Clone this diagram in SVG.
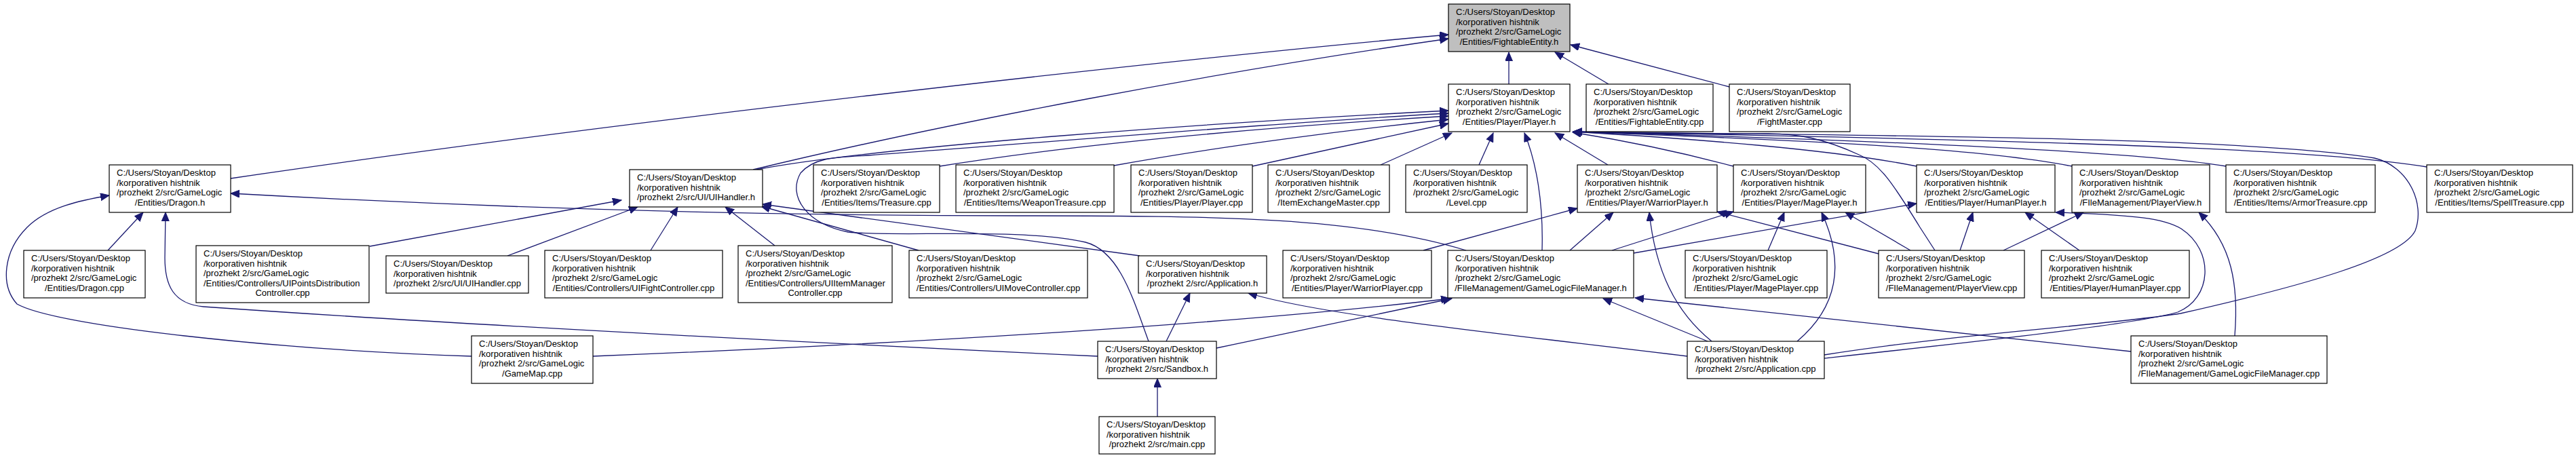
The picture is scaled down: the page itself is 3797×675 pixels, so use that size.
<svg xmlns="http://www.w3.org/2000/svg" width="3797" height="675" viewBox="0 0 3797 675">
<defs>
<style>
.n rect{fill:#fff;stroke:#000;stroke-width:1.2}
.n.root rect{fill:#bfbfbf}
.n text{font-family:"Liberation Sans",Arial,sans-serif;font-size:13px;fill:#000}
.n text.c{text-anchor:middle}
.e path{fill:none;stroke:#191970;stroke-width:1.3;marker-end:url(#ah)}
</style>
<marker id="ah" markerUnits="userSpaceOnUse" markerWidth="15" markerHeight="13" refX="13" refY="5.5" orient="auto">
<path d="M0,0 L13,5.5 L0,11 z" fill="#191970" stroke="#191970" stroke-width="1"/>
</marker>
</defs>
<rect width="3797" height="675" fill="#fff"/>
<g id="connectors" class="e">
<path d="M2224,124 L2224,77"/>
<path d="M2371,124 L2292,77"/>
<path d="M2549,128 L2315,66"/>
<path d="M340,263 C900,180 1700,90 2135,51"/>
<path d="M1110,250 C1400,180 1800,105 2135,57"/>
<path d="M1115,250 C1300,215 1800,180 2135,163"/>
<path d="M1693,503 C1670,440 1650,370 1600,357 C1500,335 1320,350 1250,342 C1190,330 1160,290 1180,255 C1200,232 1230,232 1280,229 C1600,205 1900,180 2135,167"/>
<path d="M1385,245 C1600,210 1900,185 2135,171"/>
<path d="M1642,244 C1800,215 2000,190 2135,176"/>
<path d="M1846,245 L2135,182"/>
<path d="M2035,243 L2140,196"/>
<path d="M2180,243 L2201,196"/>
<path d="M2273,369 C2275,300 2265,240 2247,196"/>
<path d="M2370,243 L2292,196"/>
<path d="M2555,245 C2480,225 2400,208 2318,195"/>
<path d="M2825,245 C2700,220 2500,205 2319,194"/>
<path d="M3054,245 C2900,215 2600,205 2319,194"/>
<path d="M3281,245 C3150,222 2700,205 2319,194"/>
<path d="M3577,246 C3450,225 3200,210 2319,194"/>
<path d="M2852,369 L2830,335 C2790,270 2770,240 2740,228 C2690,205 2650,196 2600,197 C2450,198 2350,196 2319,194"/>
<path d="M2689,523 C2900,490 3100,480 3214,462 C3400,420 3540,380 3560,340 C3575,300 3550,245 3500,233 C3300,200 2700,200 2319,194"/>
<path d="M159,369 L211,313"/>
<path d="M1618,525 C1300,510 700,480 300,452 C255,448 243,420 243,380 L244,313"/>
<path d="M695,525 C400,515 80,480 25,448 C0,420 5,370 40,335 C70,305 120,295 161,288"/>
<path d="M2161,369 C2000,320 1800,318 1500,318 C1100,318 700,305 340,285"/>
<path d="M545,363 L916,295"/>
<path d="M748,377 L940,305"/>
<path d="M959,369 L999,305"/>
<path d="M1142,362 L1069,305"/>
<path d="M1354,369 L1122,304"/>
<path d="M1680,377 L1124,301"/>
<path d="M1719,503 L1754,432"/>
<path d="M2487,525 C2200,490 1950,465 1840,432"/>
<path d="M1706,614 L1706,558"/>
<path d="M874,525 C1300,508 1800,480 2137,440"/>
<path d="M1793,513 L2140,440"/>
<path d="M2517,503 L2363,440"/>
<path d="M3141,518 L2410,439"/>
<path d="M2098,369 L2325,307"/>
<path d="M2314,369 L2378,313"/>
<path d="M2523,503 C2470,460 2440,400 2431,313"/>
<path d="M2769,374 L2531,312"/>
<path d="M2376,369 L2555,312"/>
<path d="M2606,369 L2630,313"/>
<path d="M2649,503 C2700,460 2725,400 2685,313"/>
<path d="M2816,369 L2720,313"/>
<path d="M2408,373 L2825,300"/>
<path d="M2889,369 L2908,313"/>
<path d="M3065,369 L2985,313"/>
<path d="M2953,369 L3071,313"/>
<path d="M2689,528 C2900,505 3150,478 3210,460 C3260,440 3265,370 3215,337 C3190,322 3150,317 3030,313"/>
<path d="M3294,495 C3300,420 3290,360 3241,313"/>
</g>
<g id="fe_h" class="n root" transform="translate(2135,6)"><rect width="179" height="70"/><text x="11" y="16.25">C:/Users/Stoyan/Desktop</text><text x="11" y="30.75">/korporativen hishtnik</text><text x="11" y="45.25">/prozhekt 2/src/GameLogic</text><text class="c" x="89.5" y="59.75">/Entities/FightableEntity.h</text></g>
<g id="player_h" class="n" transform="translate(2135,124)"><rect width="179" height="70"/><text x="11" y="16.25">C:/Users/Stoyan/Desktop</text><text x="11" y="30.75">/korporativen hishtnik</text><text x="11" y="45.25">/prozhekt 2/src/GameLogic</text><text class="c" x="89.5" y="59.75">/Entities/Player/Player.h</text></g>
<g id="fe_cpp" class="n" transform="translate(2338,124)"><rect width="187" height="70"/><text x="11" y="16.25">C:/Users/Stoyan/Desktop</text><text x="11" y="30.75">/korporativen hishtnik</text><text x="11" y="45.25">/prozhekt 2/src/GameLogic</text><text class="c" x="93.5" y="59.75">/Entities/FightableEntity.cpp</text></g>
<g id="fightmaster_cpp" class="n" transform="translate(2549,124)"><rect width="178" height="70"/><text x="11" y="16.25">C:/Users/Stoyan/Desktop</text><text x="11" y="30.75">/korporativen hishtnik</text><text x="11" y="45.25">/prozhekt 2/src/GameLogic</text><text class="c" x="89" y="59.75">/FightMaster.cpp</text></g>
<g id="dragon_h" class="n" transform="translate(161,243)"><rect width="179" height="70"/><text x="11" y="16.25">C:/Users/Stoyan/Desktop</text><text x="11" y="30.75">/korporativen hishtnik</text><text x="11" y="45.25">/prozhekt 2/src/GameLogic</text><text class="c" x="89.5" y="59.75">/Entities/Dragon.h</text></g>
<g id="uihandler_h" class="n" transform="translate(928,250)"><rect width="196" height="55"/><text x="11" y="16">C:/Users/Stoyan/Desktop</text><text x="11" y="30.5">/korporativen hishtnik</text><text class="c" x="98" y="45">/prozhekt 2/src/UI/UIHandler.h</text></g>
<g id="treasure_cpp" class="n" transform="translate(1199,243)"><rect width="186" height="70"/><text x="11" y="16.25">C:/Users/Stoyan/Desktop</text><text x="11" y="30.75">/korporativen hishtnik</text><text x="11" y="45.25">/prozhekt 2/src/GameLogic</text><text class="c" x="93" y="59.75">/Entities/Items/Treasure.cpp</text></g>
<g id="weapontreasure_cpp" class="n" transform="translate(1409,243)"><rect width="233" height="70"/><text x="11" y="16.25">C:/Users/Stoyan/Desktop</text><text x="11" y="30.75">/korporativen hishtnik</text><text x="11" y="45.25">/prozhekt 2/src/GameLogic</text><text class="c" x="116.5" y="59.75">/Entities/Items/WeaponTreasure.cpp</text></g>
<g id="player_cpp" class="n" transform="translate(1667,243)"><rect width="179" height="70"/><text x="11" y="16.25">C:/Users/Stoyan/Desktop</text><text x="11" y="30.75">/korporativen hishtnik</text><text x="11" y="45.25">/prozhekt 2/src/GameLogic</text><text class="c" x="89.5" y="59.75">/Entities/Player/Player.cpp</text></g>
<g id="itemexchangemaster_cpp" class="n" transform="translate(1869,243)"><rect width="179" height="70"/><text x="11" y="16.25">C:/Users/Stoyan/Desktop</text><text x="11" y="30.75">/korporativen hishtnik</text><text x="11" y="45.25">/prozhekt 2/src/GameLogic</text><text class="c" x="89.5" y="59.75">/ItemExchangeMaster.cpp</text></g>
<g id="level_cpp" class="n" transform="translate(2072,243)"><rect width="179" height="70"/><text x="11" y="16.25">C:/Users/Stoyan/Desktop</text><text x="11" y="30.75">/korporativen hishtnik</text><text x="11" y="45.25">/prozhekt 2/src/GameLogic</text><text class="c" x="89.5" y="59.75">/Level.cpp</text></g>
<g id="warriorplayer_h" class="n" transform="translate(2325,243)"><rect width="206" height="70"/><text x="11" y="16.25">C:/Users/Stoyan/Desktop</text><text x="11" y="30.75">/korporativen hishtnik</text><text x="11" y="45.25">/prozhekt 2/src/GameLogic</text><text class="c" x="103" y="59.75">/Entities/Player/WarriorPlayer.h</text></g>
<g id="mageplayer_h" class="n" transform="translate(2555,243)"><rect width="195" height="70"/><text x="11" y="16.25">C:/Users/Stoyan/Desktop</text><text x="11" y="30.75">/korporativen hishtnik</text><text x="11" y="45.25">/prozhekt 2/src/GameLogic</text><text class="c" x="97.5" y="59.75">/Entities/Player/MagePlayer.h</text></g>
<g id="humanplayer_h" class="n" transform="translate(2825,243)"><rect width="204" height="70"/><text x="11" y="16.25">C:/Users/Stoyan/Desktop</text><text x="11" y="30.75">/korporativen hishtnik</text><text x="11" y="45.25">/prozhekt 2/src/GameLogic</text><text class="c" x="102" y="59.75">/Entities/Player/HumanPlayer.h</text></g>
<g id="playerview_h" class="n" transform="translate(3054,243)"><rect width="203" height="70"/><text x="11" y="16.25">C:/Users/Stoyan/Desktop</text><text x="11" y="30.75">/korporativen hishtnik</text><text x="11" y="45.25">/prozhekt 2/src/GameLogic</text><text class="c" x="101.5" y="59.75">/FIleManagement/PlayerView.h</text></g>
<g id="armortreasure_cpp" class="n" transform="translate(3281,243)"><rect width="220" height="70"/><text x="11" y="16.25">C:/Users/Stoyan/Desktop</text><text x="11" y="30.75">/korporativen hishtnik</text><text x="11" y="45.25">/prozhekt 2/src/GameLogic</text><text class="c" x="110" y="59.75">/Entities/Items/ArmorTreasure.cpp</text></g>
<g id="spelltreasure_cpp" class="n" transform="translate(3577,243)"><rect width="215" height="70"/><text x="11" y="16.25">C:/Users/Stoyan/Desktop</text><text x="11" y="30.75">/korporativen hishtnik</text><text x="11" y="45.25">/prozhekt 2/src/GameLogic</text><text class="c" x="107.5" y="59.75">/Entities/Items/SpellTreasure.cpp</text></g>
<g id="dragon_cpp" class="n" transform="translate(35,369)"><rect width="179" height="70"/><text x="11" y="16.25">C:/Users/Stoyan/Desktop</text><text x="11" y="30.75">/korporativen hishtnik</text><text x="11" y="45.25">/prozhekt 2/src/GameLogic</text><text class="c" x="89.5" y="59.75">/Entities/Dragon.cpp</text></g>
<g id="uipointsdistributioncontroller_cpp" class="n" transform="translate(289,362)"><rect width="255" height="84"/><text x="11" y="16">C:/Users/Stoyan/Desktop</text><text x="11" y="30.5">/korporativen hishtnik</text><text x="11" y="45">/prozhekt 2/src/GameLogic</text><text x="11" y="59.5">/Entities/Controllers/UIPointsDistribution</text><text class="c" x="127.5" y="74">Controller.cpp</text></g>
<g id="uihandler_cpp" class="n" transform="translate(569,377)"><rect width="210" height="55"/><text x="11" y="16">C:/Users/Stoyan/Desktop</text><text x="11" y="30.5">/korporativen hishtnik</text><text class="c" x="105" y="45">/prozhekt 2/src/UI/UIHandler.cpp</text></g>
<g id="uifightcontroller_cpp" class="n" transform="translate(803,369)"><rect width="262" height="70"/><text x="11" y="16.25">C:/Users/Stoyan/Desktop</text><text x="11" y="30.75">/korporativen hishtnik</text><text x="11" y="45.25">/prozhekt 2/src/GameLogic</text><text class="c" x="131" y="59.75">/Entities/Controllers/UIFightController.cpp</text></g>
<g id="uiitemmanagercontroller_cpp" class="n" transform="translate(1088,362)"><rect width="227" height="84"/><text x="11" y="16">C:/Users/Stoyan/Desktop</text><text x="11" y="30.5">/korporativen hishtnik</text><text x="11" y="45">/prozhekt 2/src/GameLogic</text><text x="11" y="59.5">/Entities/Controllers/UIItemManager</text><text class="c" x="113.5" y="74">Controller.cpp</text></g>
<g id="uimovecontroller_cpp" class="n" transform="translate(1340,369)"><rect width="263" height="70"/><text x="11" y="16.25">C:/Users/Stoyan/Desktop</text><text x="11" y="30.75">/korporativen hishtnik</text><text x="11" y="45.25">/prozhekt 2/src/GameLogic</text><text class="c" x="131.5" y="59.75">/Entities/Controllers/UIMoveController.cpp</text></g>
<g id="application_h" class="n" transform="translate(1678,377)"><rect width="189" height="55"/><text x="11" y="16">C:/Users/Stoyan/Desktop</text><text x="11" y="30.5">/korporativen hishtnik</text><text class="c" x="94.5" y="45">/prozhekt 2/src/Application.h</text></g>
<g id="warriorplayer_cpp" class="n" transform="translate(1891,369)"><rect width="219" height="70"/><text x="11" y="16.25">C:/Users/Stoyan/Desktop</text><text x="11" y="30.75">/korporativen hishtnik</text><text x="11" y="45.25">/prozhekt 2/src/GameLogic</text><text class="c" x="109.5" y="59.75">/Entities/Player/WarriorPlayer.cpp</text></g>
<g id="gamelogicfilemanager_h" class="n" transform="translate(2134,369)"><rect width="274" height="70"/><text x="11" y="16.25">C:/Users/Stoyan/Desktop</text><text x="11" y="30.75">/korporativen hishtnik</text><text x="11" y="45.25">/prozhekt 2/src/GameLogic</text><text class="c" x="137" y="59.75">/FIleManagement/GameLogicFileManager.h</text></g>
<g id="mageplayer_cpp" class="n" transform="translate(2484,369)"><rect width="209" height="70"/><text x="11" y="16.25">C:/Users/Stoyan/Desktop</text><text x="11" y="30.75">/korporativen hishtnik</text><text x="11" y="45.25">/prozhekt 2/src/GameLogic</text><text class="c" x="104.5" y="59.75">/Entities/Player/MagePlayer.cpp</text></g>
<g id="playerview_cpp" class="n" transform="translate(2769,369)"><rect width="215" height="70"/><text x="11" y="16.25">C:/Users/Stoyan/Desktop</text><text x="11" y="30.75">/korporativen hishtnik</text><text x="11" y="45.25">/prozhekt 2/src/GameLogic</text><text class="c" x="107.5" y="59.75">/FIleManagement/PlayerView.cpp</text></g>
<g id="humanplayer_cpp" class="n" transform="translate(3009,369)"><rect width="218" height="70"/><text x="11" y="16.25">C:/Users/Stoyan/Desktop</text><text x="11" y="30.75">/korporativen hishtnik</text><text x="11" y="45.25">/prozhekt 2/src/GameLogic</text><text class="c" x="109" y="59.75">/Entities/Player/HumanPlayer.cpp</text></g>
<g id="gamemap_cpp" class="n" transform="translate(695,495)"><rect width="179" height="70"/><text x="11" y="16.25">C:/Users/Stoyan/Desktop</text><text x="11" y="30.75">/korporativen hishtnik</text><text x="11" y="45.25">/prozhekt 2/src/GameLogic</text><text class="c" x="89.5" y="59.75">/GameMap.cpp</text></g>
<g id="sandbox_h" class="n" transform="translate(1618,503)"><rect width="175" height="55"/><text x="11" y="16">C:/Users/Stoyan/Desktop</text><text x="11" y="30.5">/korporativen hishtnik</text><text class="c" x="87.5" y="45">/prozhekt 2/src/Sandbox.h</text></g>
<g id="application_cpp" class="n" transform="translate(2487,503)"><rect width="202" height="55"/><text x="11" y="16">C:/Users/Stoyan/Desktop</text><text x="11" y="30.5">/korporativen hishtnik</text><text class="c" x="101" y="45">/prozhekt 2/src/Application.cpp</text></g>
<g id="gamelogicfilemanager_cpp" class="n" transform="translate(3141,495)"><rect width="289" height="70"/><text x="11" y="16.25">C:/Users/Stoyan/Desktop</text><text x="11" y="30.75">/korporativen hishtnik</text><text x="11" y="45.25">/prozhekt 2/src/GameLogic</text><text class="c" x="144.5" y="59.75">/FIleManagement/GameLogicFileManager.cpp</text></g>
<g id="main_cpp" class="n" transform="translate(1620,614)"><rect width="171" height="55"/><text x="11" y="16">C:/Users/Stoyan/Desktop</text><text x="11" y="30.5">/korporativen hishtnik</text><text class="c" x="85.5" y="45">/prozhekt 2/src/main.cpp</text></g>
</svg>
